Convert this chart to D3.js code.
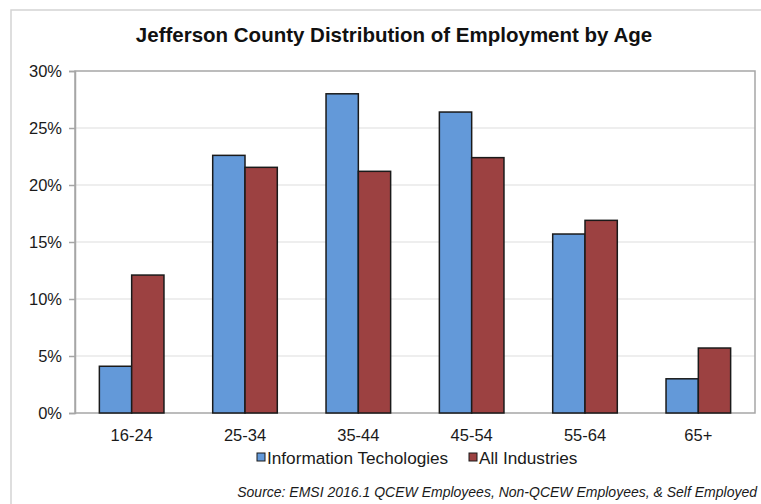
<!DOCTYPE html>
<html><head><meta charset="utf-8">
<script src="https://cdn.jsdelivr.net/npm/d3@7"></script>
<style>body{margin:0;background:#fff;} svg{display:block;font-family:"Liberation Sans",Arial,sans-serif;}</style>
</head><body>
<svg id="c" width="761" height="504"></svg>
<script>
const categories = ["16-24","25-34","35-44","45-54","55-64","65+"];
const seriesNames = ["Information Techologies","All Industries"];
const itValues = [4.1, 22.6, 28.0, 26.4, 15.7, 3.0];
const allValues = [12.1, 21.55, 21.2, 22.4, 16.9, 5.7];
const yTicks = [0,5,10,15,20,25,30];
const colors = ["#6399d9","#9c4141"];

const svg = d3.select("#c");
const L=75, R=755, T=71, B=413;

// outer chart border
svg.append("path").attr("d","M11,504 L11,10 L761,10").attr("fill","none").attr("stroke","#d4d4d4").attr("stroke-width",1.5);

const x0 = d3.scaleBand().domain(categories).range([L,R]).paddingInner(0.43).paddingOuter(0.215);
const x1 = d3.scaleBand().domain(seriesNames).range([0,x0.bandwidth()]);
const y = d3.scaleLinear().domain([0,30]).range([B,T]);

// gridlines
svg.append("g").selectAll("line").data(yTicks.filter(t=>t>0&&t<30)).join("line")
  .attr("x1",L).attr("x2",R).attr("y1",d=>y(d)).attr("y2",d=>y(d))
  .attr("stroke","#dedede").attr("stroke-width",1.2);

// plot border
svg.append("rect").attr("x",L).attr("y",T).attr("width",R-L).attr("height",B-T)
  .attr("fill","none").attr("stroke","#a6a6a6").attr("stroke-width",1.5);

// y axis
const yAxis = d3.axisLeft(y).tickValues(yTicks).tickFormat(d=>d+"%").tickSize(6).tickPadding(7);
const yg = svg.append("g").attr("transform",`translate(${L},0)`).call(yAxis);
yg.select(".domain").attr("stroke","#a6a6a6").attr("stroke-width",1.5);
yg.selectAll(".tick line").attr("stroke","#a6a6a6").attr("stroke-width",1.5);
yg.selectAll("text").attr("font-size","16.5px").attr("fill","#1a1a1a").attr("font-family","Liberation Sans, Arial, sans-serif");

// x axis
const xAxis = d3.axisBottom(x0).tickSize(0).tickPadding(16);
const xg = svg.append("g").attr("transform",`translate(0,${B})`).call(xAxis);
xg.select(".domain").remove();
xg.selectAll("text").attr("font-size","16.5px").attr("fill","#1a1a1a").attr("font-family","Liberation Sans, Arial, sans-serif");

// bars
const data = categories.map((c,i)=>({cat:c, vals:[itValues[i], allValues[i]]}));
svg.append("g").selectAll("g").data(data).join("g")
  .attr("transform",d=>`translate(${x0(d.cat)},0)`)
  .selectAll("rect").data(d=>d.vals.map((v,j)=>({name:seriesNames[j],v,j}))).join("rect")
  .attr("x",d=>x1(d.name)).attr("width",x1.bandwidth())
  .attr("y",d=>y(d.v)).attr("height",d=>B-y(d.v))
  .attr("fill",d=>colors[d.j]).attr("stroke","#1a1a1a").attr("stroke-width",1.5);

// title
svg.append("text").attr("x",394).attr("y",42).attr("text-anchor","middle")
  .attr("font-size","20.5px").attr("font-weight","bold").attr("fill","#111")
  .text("Jefferson County Distribution of Employment by Age");

// legend
const leg = svg.append("g");
const legX = [257, 469];
seriesNames.forEach((n,i)=>{
  leg.append("rect").attr("x",legX[i]).attr("y",453).attr("width",8).attr("height",8)
    .attr("fill",colors[i]).attr("stroke","#1a1a1a").attr("stroke-width",1);
  leg.append("text").attr("x",legX[i]+10).attr("y",464).attr("font-size","17.2px").attr("fill","#1a1a1a").text(n);
});

// source
svg.append("text").attr("x",757).attr("y",497).attr("text-anchor","end")
  .attr("font-size","14px").attr("font-style","italic").attr("fill","#1a1a1a")
  .text("Source: EMSI 2016.1 QCEW Employees, Non-QCEW Employees, & Self Employed");
</script>
</body></html>
